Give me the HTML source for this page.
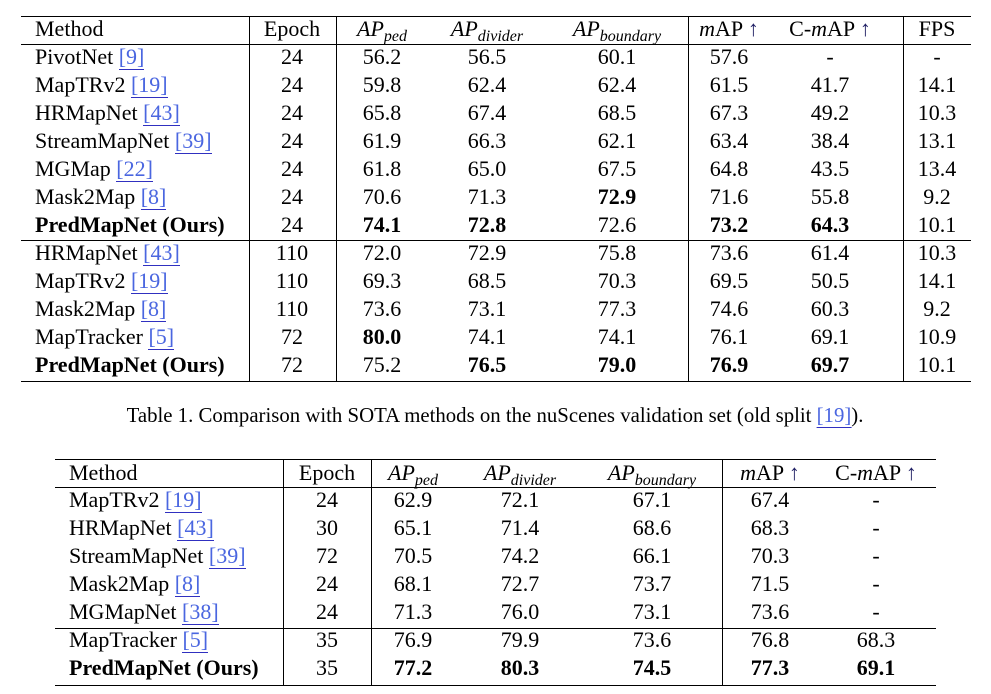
<!DOCTYPE html>
<html><head><meta charset="utf-8">
<style>
body{margin:0;width:991px;height:694px;background:#fff;position:relative;overflow:hidden;font-family:"Liberation Serif",serif;color:#000;}
.c{position:absolute;font-size:22px;line-height:26px;white-space:nowrap;transform:translate(-50%,-50%);}
.l{position:absolute;font-size:22px;line-height:26px;white-space:nowrap;transform:translateY(-50%);}
.h{position:absolute;background:#000;height:1.3px;}
.v{position:absolute;background:#000;width:1.3px;}
.b{font-weight:bold;}
.ref{color:#4a66e0;border-bottom:1px solid #3030c0;}
i{font-style:italic;}
sub{font-size:16px;font-style:italic;vertical-align:-5px;line-height:0;}
.cap{position:absolute;font-size:20.8px;transform:translate(-50%,-50%);white-space:nowrap;}
</style></head><body>
<div id="t1"></div>
<div id="t2"></div>
<div class="cap" style="left:495px;top:416px">Table 1. Comparison with SOTA methods on the nuScenes validation set (old split <span class="ref">[19]</span>).</div>
<script>
const headers1 = ['Method','Epoch','<i>AP</i><sub>ped</sub>','<i>AP</i><sub>divider</sub>','<i>AP</i><sub>boundary</sub>','<i>m</i>AP <span style="color:#226">↑</span>','C-<i>m</i>AP <span style="color:#226">↑</span>','FPS'];
const methods1 = ['PivotNet','MapTRv2','HRMapNet','StreamMapNet','MGMap','Mask2Map','PredMapNet (Ours)','HRMapNet','MapTRv2','Mask2Map','MapTracker','PredMapNet (Ours)'];
const refs1 = ['9','19','43','39','22','8','','43','19','8','5',''];
const values1 = [
['24','56.2','56.5','60.1','57.6','-','-'],
['24','59.8','62.4','62.4','61.5','41.7','14.1'],
['24','65.8','67.4','68.5','67.3','49.2','10.3'],
['24','61.9','66.3','62.1','63.4','38.4','13.1'],
['24','61.8','65.0','67.5','64.8','43.5','13.4'],
['24','70.6','71.3','72.9','71.6','55.8','9.2'],
['24','74.1','72.8','72.6','73.2','64.3','10.1'],
['110','72.0','72.9','75.8','73.6','61.4','10.3'],
['110','69.3','68.5','70.3','69.5','50.5','14.1'],
['110','73.6','73.1','77.3','74.6','60.3','9.2'],
['72','80.0','74.1','74.1','76.1','69.1','10.9'],
['72','75.2','76.5','79.0','76.9','69.7','10.1']];
const bold1 = [[5,3],[6,1],[6,2],[6,4],[6,5],[10,1],[11,2],[11,3],[11,4],[11,5]];
const headers2 = ['Method','Epoch','<i>AP</i><sub>ped</sub>','<i>AP</i><sub>divider</sub>','<i>AP</i><sub>boundary</sub>','<i>m</i>AP <span style="color:#226">↑</span>','C-<i>m</i>AP <span style="color:#226">↑</span>'];
const methods2 = ['MapTRv2','HRMapNet','StreamMapNet','Mask2Map','MGMapNet','MapTracker','PredMapNet (Ours)'];
const refs2 = ['19','43','39','8','38','5',''];
const values2 = [
['24','62.9','72.1','67.1','67.4','-'],
['30','65.1','71.4','68.6','68.3','-'],
['72','70.5','74.2','66.1','70.3','-'],
['24','68.1','72.7','73.7','71.5','-'],
['24','71.3','76.0','73.1','73.6','-'],
['35','76.9','79.9','73.6','76.8','68.3'],
['35','77.2','80.3','74.5','77.3','69.1']];
const bold2 = [[6,1],[6,2],[6,3],[6,4],[6,5]];

function build(root, cfg, headers, methods, refs, values, bolds){
  const cols = cfg.cols;
  function add(cls, html, x, y){
    const d=document.createElement('div');
    d.className=cls; d.innerHTML=html; d.style.left=x+'px'; d.style.top=y+'px';
    
    
    root.appendChild(d); return d;
  }
  headers.forEach((h,i)=>{
    const d = i===0 ? add('l',h,cfg.mx,cfg.hy) : add('c',h,cols[i-1],cfg.hy);
    
  });
  methods.forEach((m,r)=>{
    const y = cfg.y0 + r*28;
    const isB = m.indexOf('Ours')>=0;
    const html = (isB?'<span class="b">'+m+'</span>':m) + (refs[r]?' <span class="ref">['+refs[r]+']</span>':'');
    const d = add('l',html,cfg.mx,y);
    
    values[r].forEach((v,c)=>{
      const b = bolds.some(p=>p[0]===r&&p[1]===c);
      const e = add('c',b?'<span class="b">'+v+'</span>':v,cols[c],y);
      
    });
  });
  function line(cls,x,y,w,h){
    const d=document.createElement('div'); d.className=cls;
    d.style.left=x+'px'; d.style.top=y+'px';
    if(w) d.style.width=w+'px'; if(h) d.style.height=h+'px';
    
    
    root.appendChild(d);
  }
  cfg.hl.forEach(y=>line('h',cfg.x0,y,cfg.x1-cfg.x0,0));
  cfg.vl.forEach(x=>line('v',x,cfg.hl[0],0,cfg.hl[cfg.hl.length-1]-cfg.hl[0]));
}
build(document.getElementById('t1'),
 {cols:[292,382,487,617,729,830,937],mx:35,hy:29,y0:57,x0:21,x1:971,hl:[16,44,240,381],vl:[249,336,688,903]},
 headers1,methods1,refs1,values1,bold1);
build(document.getElementById('t2'),
 {cols:[327,413,520,652,770,876],mx:69,hy:473,y0:500,x0:55,x1:936,hl:[459,487,628,685],vl:[283,371,722]},
 headers2,methods2,refs2,values2,bold2);
</script>
</body></html>
